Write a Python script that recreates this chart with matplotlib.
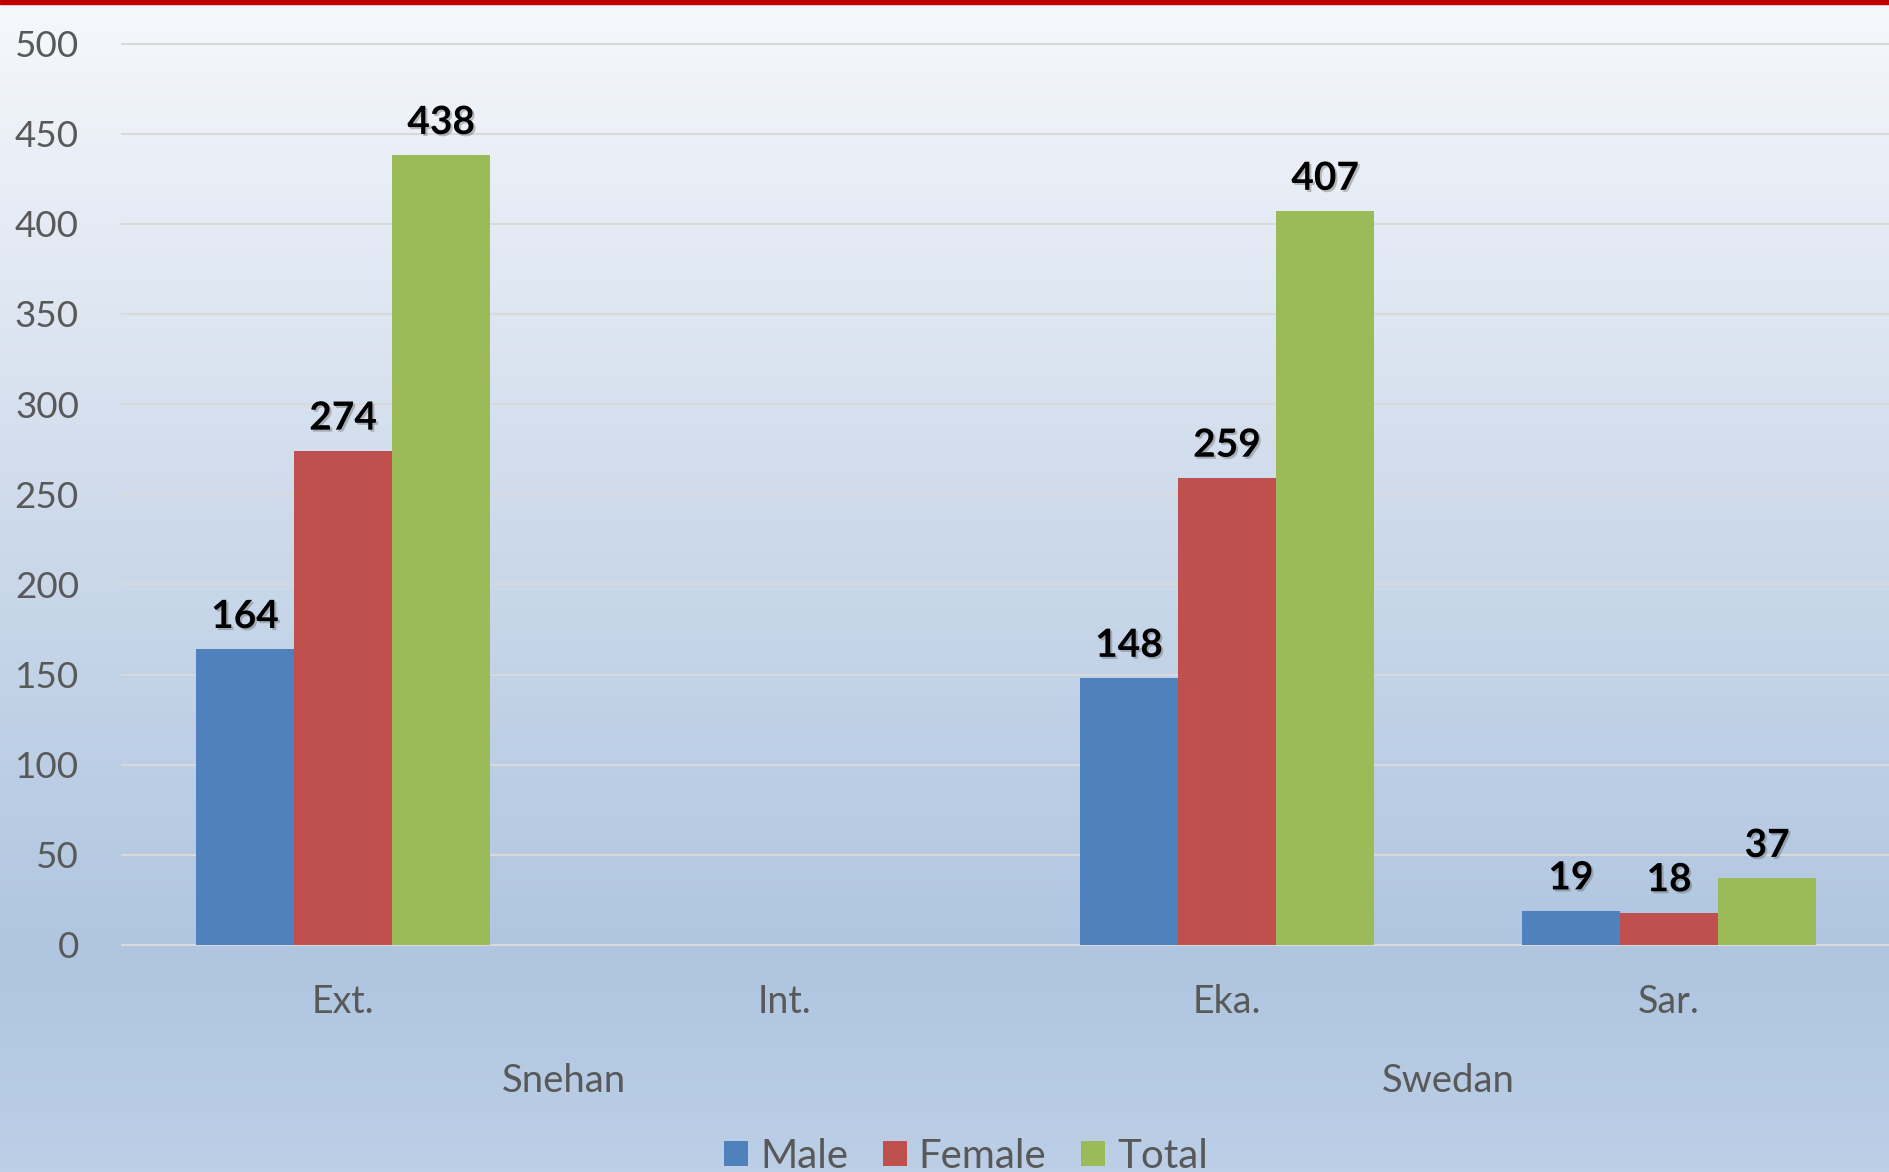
import matplotlib.pyplot as plt
import numpy as np
import matplotlib.patheffects as pe
from matplotlib.patches import Rectangle
from matplotlib.colors import LinearSegmentedColormap
from matplotlib.transforms import blended_transform_factory

plt.rcParams['font.family'] = ['Lato', 'DejaVu Sans']

# data
categories = ['Ext.', 'Int.', 'Eka.', 'Sar.']
groups = ['Snehan', 'Swedan']
series = ['Male', 'Female', 'Total']
male = [164, np.nan, 148, 19]
female = [274, np.nan, 259, 18]
total = [438, np.nan, 407, 37]
colors = ['#4F81BD', '#C0504D', '#9BBB59']

fig = plt.figure(figsize=(18.9, 11.72), dpi=100)

# background gradient
bg = fig.add_axes([0, 0, 1, 1], zorder=-10)
cmap = LinearSegmentedColormap.from_list('bg', [(0, '#BCCFE7'), (0.18, '#AFC5E0'),
                                                (0.55, '#CDDAEB'), (1.0, '#F6F8FC')])
bg.imshow(np.linspace(0, 1, 256).reshape(-1, 1), aspect='auto', cmap=cmap,
          origin='lower', extent=[0, 1, 0, 1])
bg.set_axis_off()
fig.patches.append(Rectangle((0, 1 - 4 / 1172), 1, 4 / 1172, transform=fig.transFigure,
                             color='#C00000', zorder=5))

ax = fig.add_axes([122 / 1890, 227 / 1172, 1 - 122 / 1890, 901.5 / 1172])
ax.set_facecolor('none')
x = np.arange(len(categories))
w = 0.222
shadow = [pe.withSimplePatchShadow(offset=(1.5, -1.5), alpha=0.35, shadow_rgbFace='#555555')]
for i, (vals, name) in enumerate(zip([male, female, total], series)):
    pos = x + (i - 1) * w
    ax.bar(pos, vals, width=w, color=colors[i], label=name, zorder=3)
    for px, v in zip(pos, vals):
        if not np.isnan(v):
            ax.text(px, v + 8.5, f'{v:.0f}', ha='center', va='bottom', fontsize=28,
                    fontweight='bold', color='black', path_effects=shadow, zorder=4)

ax.set_xlim(-0.5, 3.5)
ax.set_ylim(0, 500)
ax.set_yticks(range(0, 501, 50))
ax.yaxis.grid(True, color='#D9D9D9', linewidth=1.5, zorder=0)
for gl in ax.get_ygridlines():
    gl.set_clip_on(False)
ax.tick_params(axis='y', length=0, pad=31, labelsize=26.5, labelcolor='#595959')
ax.set_xticks(x)
ax.set_xticklabels(categories)
ax.tick_params(axis='x', length=0, pad=28, labelsize=27, labelcolor='#595959')
for s in ax.spines.values():
    s.set_visible(False)

trans = blended_transform_factory(ax.transData, fig.transFigure)
for gi, g in enumerate(groups):
    ax.text(gi * 2 + 0.5, 1 - 1081 / 1172, g, transform=trans, ha='center', va='center',
            fontsize=27.5, color='#595959')

fig.legend(loc='center', bbox_to_anchor=(966 / 1890, 1 - 1156 / 1172), ncol=3, frameon=False,
           fontsize=29, labelcolor='#595959', handlelength=0.6, handleheight=0.6,
           handletextpad=0.3, columnspacing=0.85)

fig.savefig('out.png', dpi=100)
